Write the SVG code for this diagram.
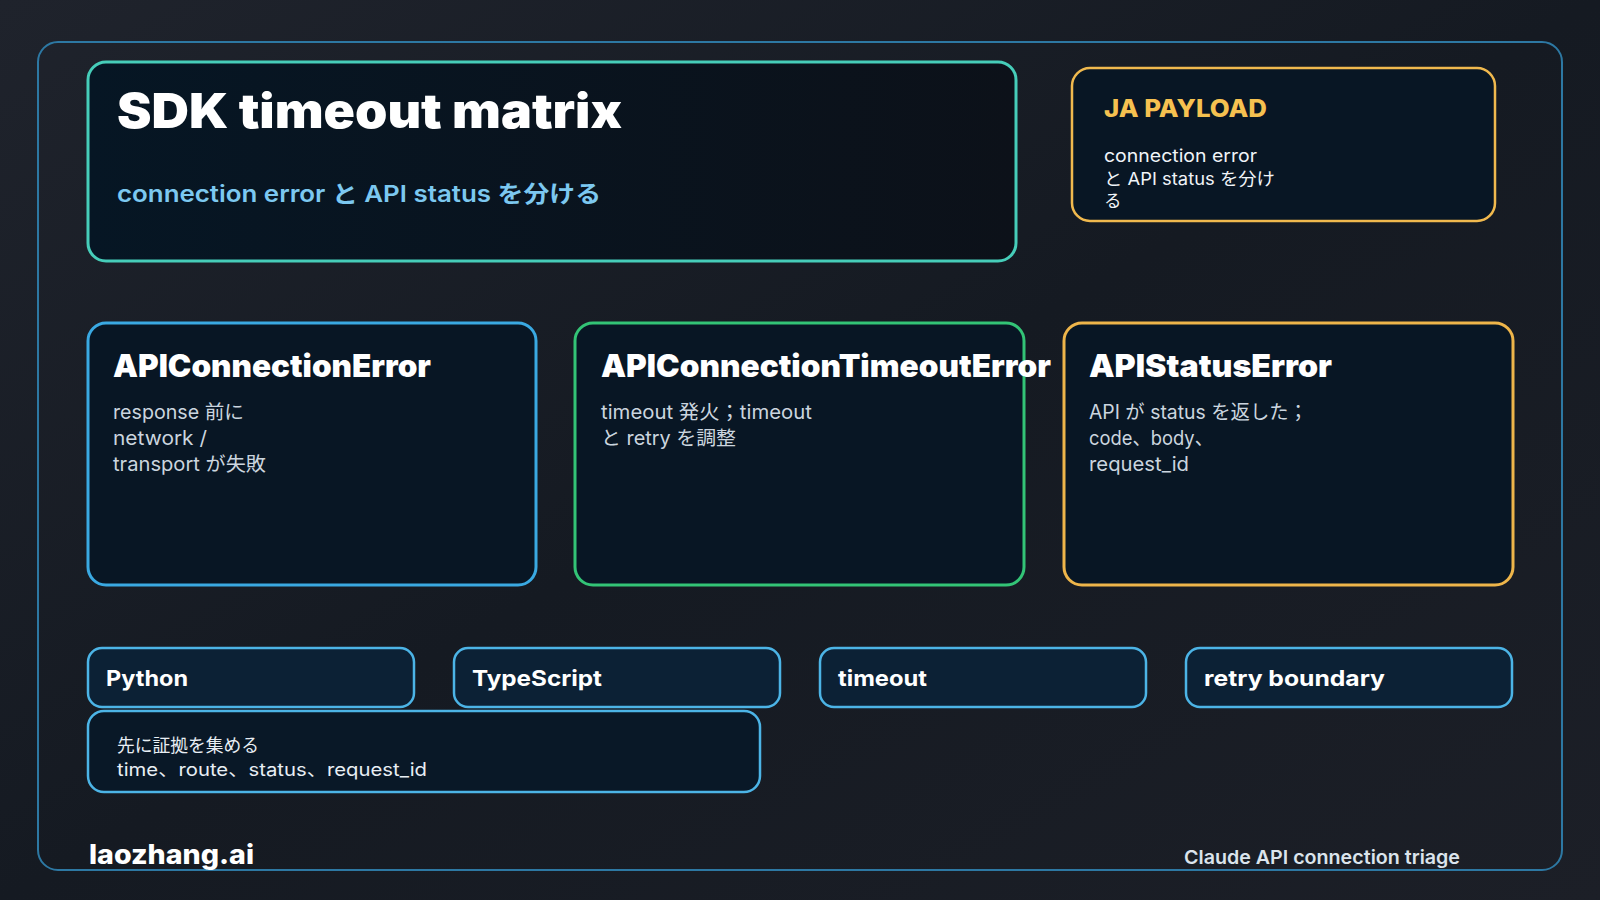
<svg xmlns="http://www.w3.org/2000/svg" width="1600" height="900" viewBox="0 0 1600 900">
<defs>
<linearGradient id="bg" x1="0" y1="0" x2="1" y2="1">
<stop offset="0" stop-color="#1f232c"/>
<stop offset="0.5" stop-color="#151a22"/>
<stop offset="1" stop-color="#1c1f27"/>
</linearGradient>
<linearGradient id="hero" x1="0" y1="0" x2="1" y2="0">
<stop offset="0" stop-color="#061624"/>
<stop offset="1" stop-color="#0c1119"/>
</linearGradient>
<style>
text{font-family:Inter,"Noto Sans","Noto Sans CJK JP",sans-serif}
.t{fill:#ffffff;font-weight:900}
.card{fill:#081624;stroke-width:3}
.chip{fill:#0c2135;stroke:#4cb4e6;stroke-width:2.5}
.body{fill:#cbd5df;font-size:19.5px}
.chipt{fill:#ffffff;font-size:22px;font-weight:700}
.ja{fill:#f0f4f8;font-size:17.5px}
.ev{fill:#e8eef4;font-size:18px}
</style>
</defs>
<rect x="0" y="0" width="1600" height="900" fill="url(#bg)"/>
<rect id="frame" x="38" y="42" width="1524" height="828" rx="20" fill="none" stroke="#2d78a3" stroke-width="2"/>

<g id="hero-node">
<rect x="88" y="62" width="928" height="199" rx="18" fill="url(#hero)" stroke="#46cdb9" stroke-width="3"/>
<text class="t" x="117" y="128" font-size="48" textLength="505" lengthAdjust="spacingAndGlyphs">SDK timeout matrix</text>
<text x="117" y="202" font-size="23" font-weight="600" fill="#7cc8f0" textLength="484" lengthAdjust="spacingAndGlyphs">connection error と API status を分ける</text>
</g>

<g id="ja-payload">
<rect x="1072" y="68" width="423" height="153" rx="18" fill="#081624" stroke="#f0b94e" stroke-width="2.5"/>
<text x="1104" y="117" font-size="24" font-weight="800" fill="#f5c150" textLength="163" lengthAdjust="spacingAndGlyphs">JA PAYLOAD</text>
<text class="ja" x="1104" y="162" textLength="153" lengthAdjust="spacingAndGlyphs">connection error</text>
<text class="ja" x="1104" y="185" textLength="171" lengthAdjust="spacingAndGlyphs">と API status を分け</text>
<text class="ja" x="1104" y="207">る</text>
</g>

<g id="api-connection-error">
<rect class="card" x="88" y="323" width="448" height="262" rx="18" stroke="#3aa9e2"/>
<text class="t" x="113" y="377" font-size="31" textLength="318" lengthAdjust="spacingAndGlyphs">APIConnectionError</text>
<text class="body" x="113" y="419" textLength="131" lengthAdjust="spacingAndGlyphs">response 前に</text>
<text class="body" x="113" y="445" textLength="94" lengthAdjust="spacingAndGlyphs">network /</text>
<text class="body" x="113" y="471" textLength="153" lengthAdjust="spacingAndGlyphs">transport が失敗</text>
</g>

<g id="api-connection-timeout-error">
<rect class="card" x="575" y="323" width="449" height="262" rx="18" stroke="#33c476"/>
<text class="t" x="601" y="377" font-size="31" textLength="450" lengthAdjust="spacingAndGlyphs">APIConnectionTimeoutError</text>
<text class="body" x="601" y="419" textLength="211" lengthAdjust="spacingAndGlyphs">timeout 発火；timeout</text>
<text class="body" x="601" y="445" textLength="135" lengthAdjust="spacingAndGlyphs">と retry を調整</text>
</g>

<g id="api-status-error">
<rect class="card" x="1064" y="323" width="449" height="262" rx="18" stroke="#eeb54a"/>
<text class="t" x="1089" y="377" font-size="31" textLength="243" lengthAdjust="spacingAndGlyphs">APIStatusError</text>
<text class="body" x="1089" y="419" textLength="219" lengthAdjust="spacingAndGlyphs">API が status を返した；</text>
<text class="body" x="1089" y="445" textLength="124" lengthAdjust="spacingAndGlyphs">code、body、</text>
<text class="body" x="1089" y="471" textLength="100" lengthAdjust="spacingAndGlyphs">request_id</text>
</g>

<g id="chip-python">
<rect class="chip" x="88" y="648" width="326" height="59" rx="14"/>
<text class="chipt" x="106" y="686" textLength="82" lengthAdjust="spacingAndGlyphs">Python</text>
</g>
<g id="chip-typescript">
<rect class="chip" x="454" y="648" width="326" height="59" rx="14"/>
<text class="chipt" x="472" y="686" textLength="130" lengthAdjust="spacingAndGlyphs">TypeScript</text>
</g>
<g id="chip-timeout">
<rect class="chip" x="820" y="648" width="326" height="59" rx="14"/>
<text class="chipt" x="838" y="686" textLength="89" lengthAdjust="spacingAndGlyphs">timeout</text>
</g>
<g id="chip-retry">
<rect class="chip" x="1186" y="648" width="326" height="59" rx="14"/>
<text class="chipt" x="1204" y="686" textLength="181" lengthAdjust="spacingAndGlyphs">retry boundary</text>
</g>

<g id="evidence">
<rect x="88" y="711" width="672" height="81" rx="16" fill="#091827" stroke="#4cb4e6" stroke-width="2.5"/>
<text class="ev" x="117" y="752" textLength="142" lengthAdjust="spacingAndGlyphs">先に証拠を集める</text>
<text class="ev" x="117" y="776" textLength="310" lengthAdjust="spacingAndGlyphs">time、route、status、request_id</text>
</g>

<g id="connectors"></g>

<g id="footer">
<text x="89" y="864" font-size="27" font-weight="800" fill="#ffffff" textLength="165" lengthAdjust="spacingAndGlyphs">laozhang.ai</text>
<text x="1184" y="864" font-size="19" font-weight="600" fill="#dbe4ec" textLength="276" lengthAdjust="spacingAndGlyphs">Claude API connection triage</text>
</g>
</svg>
